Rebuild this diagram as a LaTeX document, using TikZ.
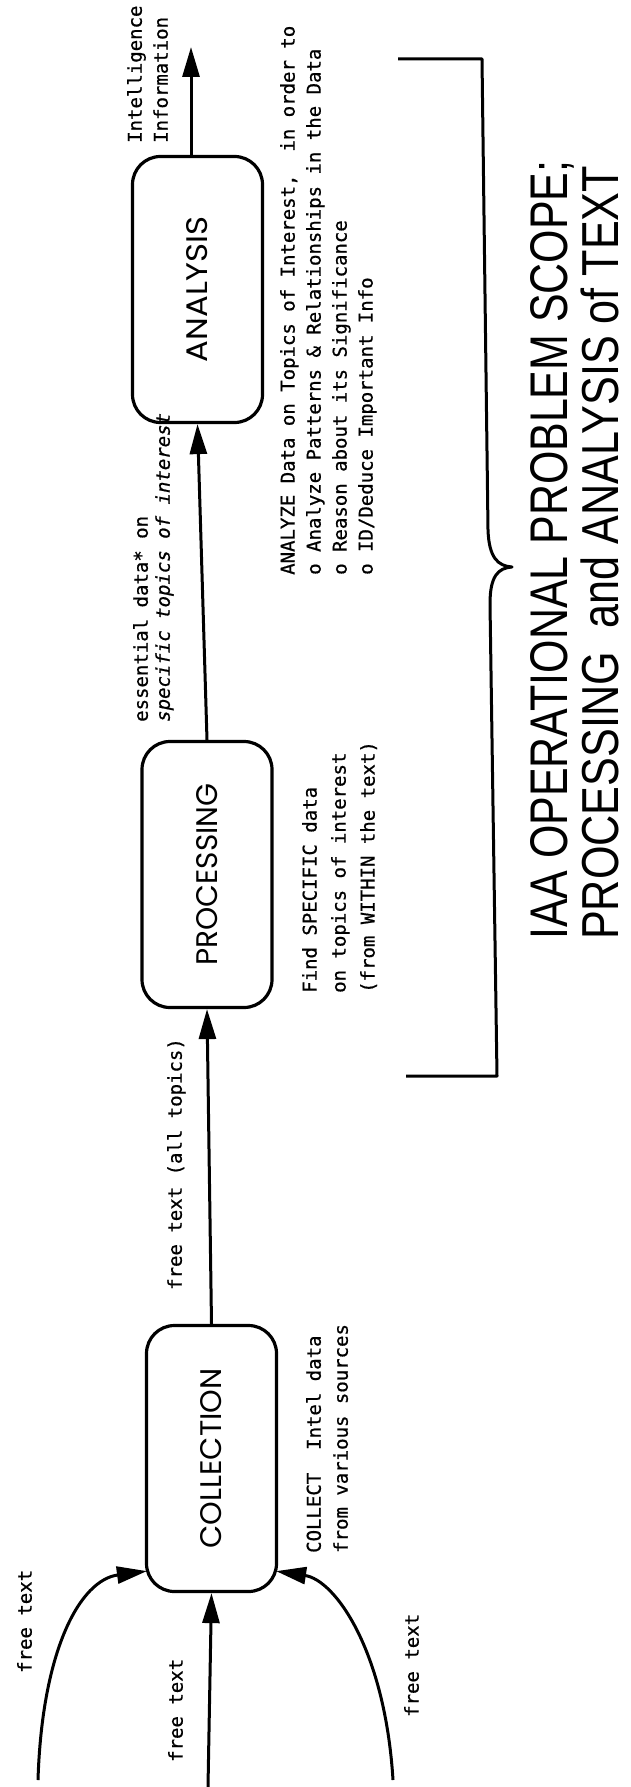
\documentclass[tikz,border=0pt]{standalone}
\usepackage{fontspec}
\usepackage{graphicx}
\usetikzlibrary{arrows.meta,calc}
\newfontfamily\boxfont{Poppins}
\newfontfamily\monofont[FakeBold=0.8]{DejaVu Sans Mono}
\newfontfamily\titlefontA[FakeStretch=0.81]{Liberation Sans}
\newfontfamily\titlefontB[FakeStretch=0.83]{Liberation Sans}
\tikzset{
  stage/.style={draw, line width=3.2pt, rounded corners=28pt, minimum width=130pt, minimum height=266pt, inner sep=0pt},
  flow/.style={line width=3pt, -{Triangle[length=30pt,width=17pt]}},
  note/.style={rotate=90, anchor=north west, inner sep=0pt, align=left, font=\monofont\fontsize{19}{26}\selectfont},
  bracketline/.style={line width=3pt, line join=round},
  titletext/.style={rotate=90, anchor=base west, inner sep=0pt}
}
\begin{document}
\begin{tikzpicture}[x=1pt,y=-1pt]
\useasboundingbox (0,0) rectangle (631,1787);
% stages
\node[stage] (ana)  at (197.5,289.5) {\rotatebox{90}{\resizebox{145pt}{21pt}{\boxfont ANALYSIS}}};
\node[stage] (proc) at (207,874.5)   {\rotatebox{90}{\resizebox{182pt}{21pt}{\boxfont PROCESSING}}};
\node[stage] (col)  at (211.5,1458.5){\rotatebox{90}{\resizebox{180pt}{21pt}{\boxfont COLLECTION}}};
% connectors
\coordinate (outtip) at (191,47);
\coordinate (inM) at (208,1787);
\coordinate (inL) at (38,1780);
\coordinate (inR) at (393,1780);
\draw[flow] (ana.north -| outtip) -- (outtip);
\draw[flow] (proc.north) -- (ana.south);
\draw[flow] (col.north) -- (proc.south);
\draw[flow] (inM) -- (col.south);
\draw[flow] (inL) .. controls (42,1650) and (80,1580) .. ($(col.south west)+(2,-22)$);
\draw[flow] (inR) .. controls (385,1650) and (335,1580) .. ($(col.south east)+(-2,-22)$);
% bracket
\draw[bracketline] (398,59) -- (482,59) -- (488,530)
  .. controls (489,558) and (498,566) .. (512,567)
  .. controls (498,568) and (490,576) .. (490,604) -- (497,1076) -- (406,1076);
% texts
\node[note] (intel) at (127,143) {Intelligence\\Information};
\node[note, font=\monofont\fontsize{19}{22}\selectfont] (ess) at (133,722) {essential data* on\\\textit{specific topics of interest}};
\node[note] (anatext) at (280,575) {ANALYZE Data on Topics of Interest,\ \ in order to\\o Analyze Patterns \& Relationships in the Data\\o Reason about its Significance\\o ID/Deduce Important Info};
\node[note, font=\monofont\fontsize{19}{29}\selectfont] (findtext) at (302,993) {Find SPECIFIC data\\on topics of interest\\(from WITHIN the text)};
\node[note] (alltext) at (167,1290) {free text (all topics)};
\node[note, font=\monofont\fontsize{19}{27}\selectfont] (colltext) at (306,1553) {COLLECT\ \ Intel data\\from various sources};
\node[note] (ftL) at (17,1673) {free text};
\node[note] (ftM) at (168,1762) {free text};
\node[note] (ftR) at (404,1717) {free text};
% title
\node[titletext, font=\titlefontA\fontsize{53}{60}\selectfont] (title1) at (567,940) {IAA OPERATIONAL PROBLEM SCOPE;};
\node[titletext, font=\titlefontB\fontsize{52}{60}\selectfont] (title2) at (618,940) {PROCESSING\ \ and ANALYSIS of TEXT};
\end{tikzpicture}
\end{document}
